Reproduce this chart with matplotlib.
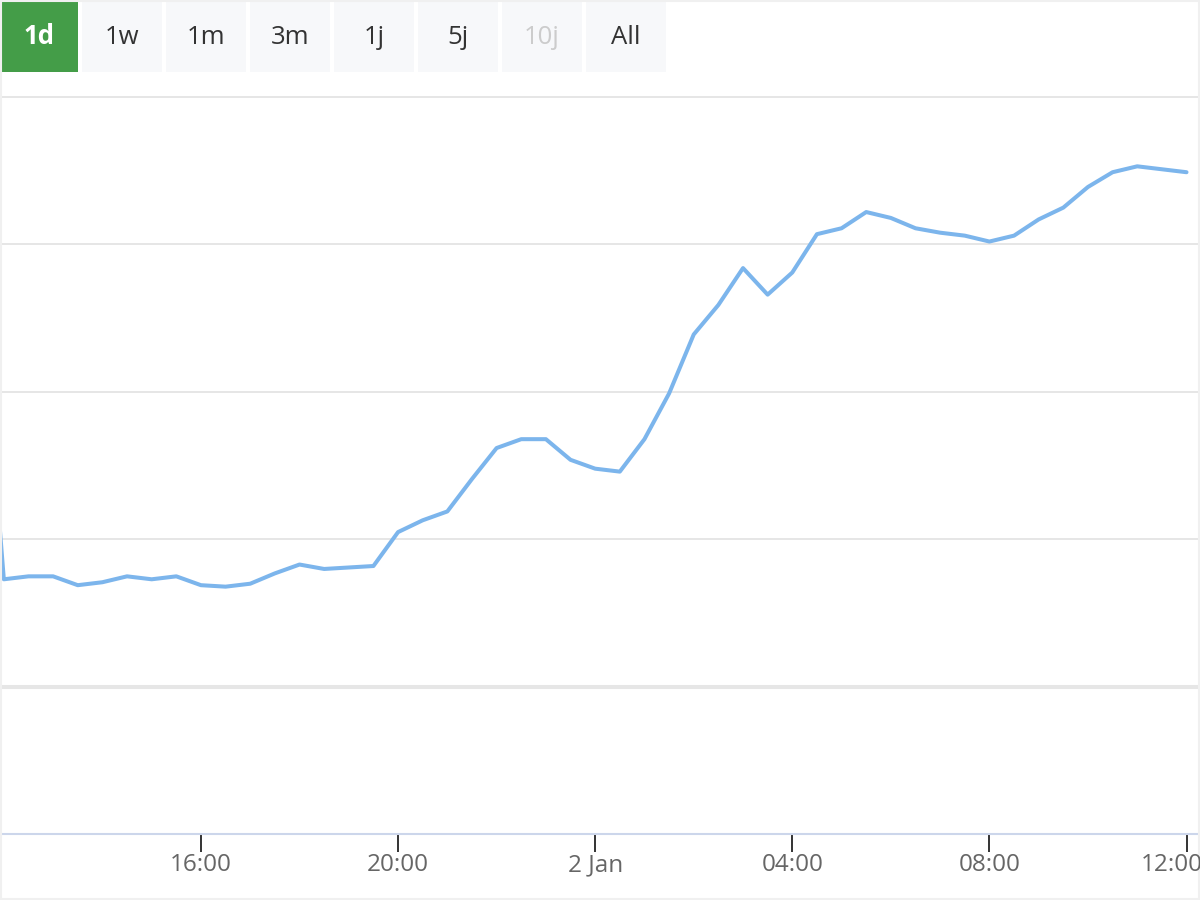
import datetime as dt
import matplotlib
matplotlib.use('Agg')
import matplotlib.pyplot as plt
from matplotlib.patches import Rectangle

### DATA ###
start = dt.datetime(2020, 1, 1, 11, 30)
step = dt.timedelta(minutes=30)
# values every 30 min, 11:30 on 1 Jan to 12:00 on 2 Jan
werte = [128.3,
	107.3, 107.5, 107.5, 106.9, 107.1, 107.5, 107.3, 107.5,
	106.9, 106.8, 107.0, 107.7, 108.3, 108.0, 108.1, 108.2,
	110.5, 111.3, 111.9, 114.1, 116.2, 116.8, 116.8, 115.4,
	114.8, 114.6, 116.8, 119.9, 123.9, 125.9, 128.4, 126.6,
	128.1, 130.7, 131.1, 132.2, 131.8, 131.1, 130.8, 130.6,
	130.2, 130.6, 131.7, 132.5, 133.9, 134.9, 135.3, 135.1,
	134.9]
zeiten = [start + i*step for i in range(len(werte))]

ticks = [dt.datetime(2020, 1, 1, 16), dt.datetime(2020, 1, 1, 20),
	dt.datetime(2020, 1, 2, 0), dt.datetime(2020, 1, 2, 4),
	dt.datetime(2020, 1, 2, 8), dt.datetime(2020, 1, 2, 12)]
ticklabels = ['16:00', '20:00', '2 Jan', '04:00', '08:00', '12:00']

knoepfe = ['1d', '1w', '1m', '3m', '1j', '5j', '10j', 'All']
aktiv = '1d'
gesperrt = ['10j']
gitter = [110, 120, 130, 140]

### HAUPT ###
fig = plt.figure(figsize=(12, 9), dpi=100)
ax = fig.add_axes([0, 66/900, 1, (834-97)/900])

ax.plot(zeiten, werte, color='#7cb5ec', lw=2.9, solid_joinstyle='round', solid_capstyle='round')

x0 = dt.datetime(2020, 1, 1, 11, 55, 20)
x1 = dt.datetime(2020, 1, 2, 12, 16, 25)
ax.set_xlim(x0, x1)
ax.set_ylim(90.03, 140.0)

for g in gitter:
	ax.axhline(g, color='#e6e6e6', lw=1.4, zorder=0, clip_on=False)
ax.axhline(100, color='#e6e6e6', lw=2.9, zorder=0)

for s in ['left', 'right', 'top']:
	ax.spines[s].set_visible(False)
ax.spines['bottom'].set_color('#ccd6eb')
ax.spines['bottom'].set_linewidth(1.5)
ax.set_yticks([])

# last label is shifted left to fit (like highcharts justify)
ax.set_xticks(ticks)
ax.set_xticklabels(ticklabels[:-1] + [''])
ax.tick_params(axis='x', length=13, width=1.4, color='#333333', pad=1,
	labelsize=17.5, labelcolor='#666666')
for t in ax.get_xticklabels():
	t.set_fontfamily('Open Sans')
lab = ax.get_xticklabels()[0]
fig.canvas.draw()
ty = lab.get_window_extent().y1
fig.text(1203/1200, ty/900, ticklabels[-1], ha='right', va='top',
	fontsize=17.5, color='#666666', family='Open Sans')

### BUTTONS ###
for i, k in enumerate(knoepfe):
	if i == 0:
		bx, bw = 0, 78
	else:
		bx, bw = 82 + 84*(i-1), 80
	farbe = '#f7f8fa'
	tfarbe = '#333333'
	gewicht = 'normal'
	if k == aktiv:
		farbe = '#449d48'
		tfarbe = 'white'
		gewicht = 'bold'
	if k in gesperrt:
		tfarbe = '#cccccc'
	fig.patches.append(Rectangle((bx/1200, 1-72/900), bw/1200, 72/900,
		transform=fig.transFigure, color=farbe, lw=0))
	fig.text((bx+bw/2)/1200, 1-37/900, k, ha='center', va='center',
		fontsize=18.5, color=tfarbe, fontweight=gewicht, family='Open Sans')

# rahmen
fig.patches.append(Rectangle((0.0005, 0.0008), 0.999, 0.998, transform=fig.transFigure,
	fill=False, ec='#f0f0f0', lw=1.5))

### AUSGABE ###
fig.savefig('out.png', dpi=100)
plt.close()
